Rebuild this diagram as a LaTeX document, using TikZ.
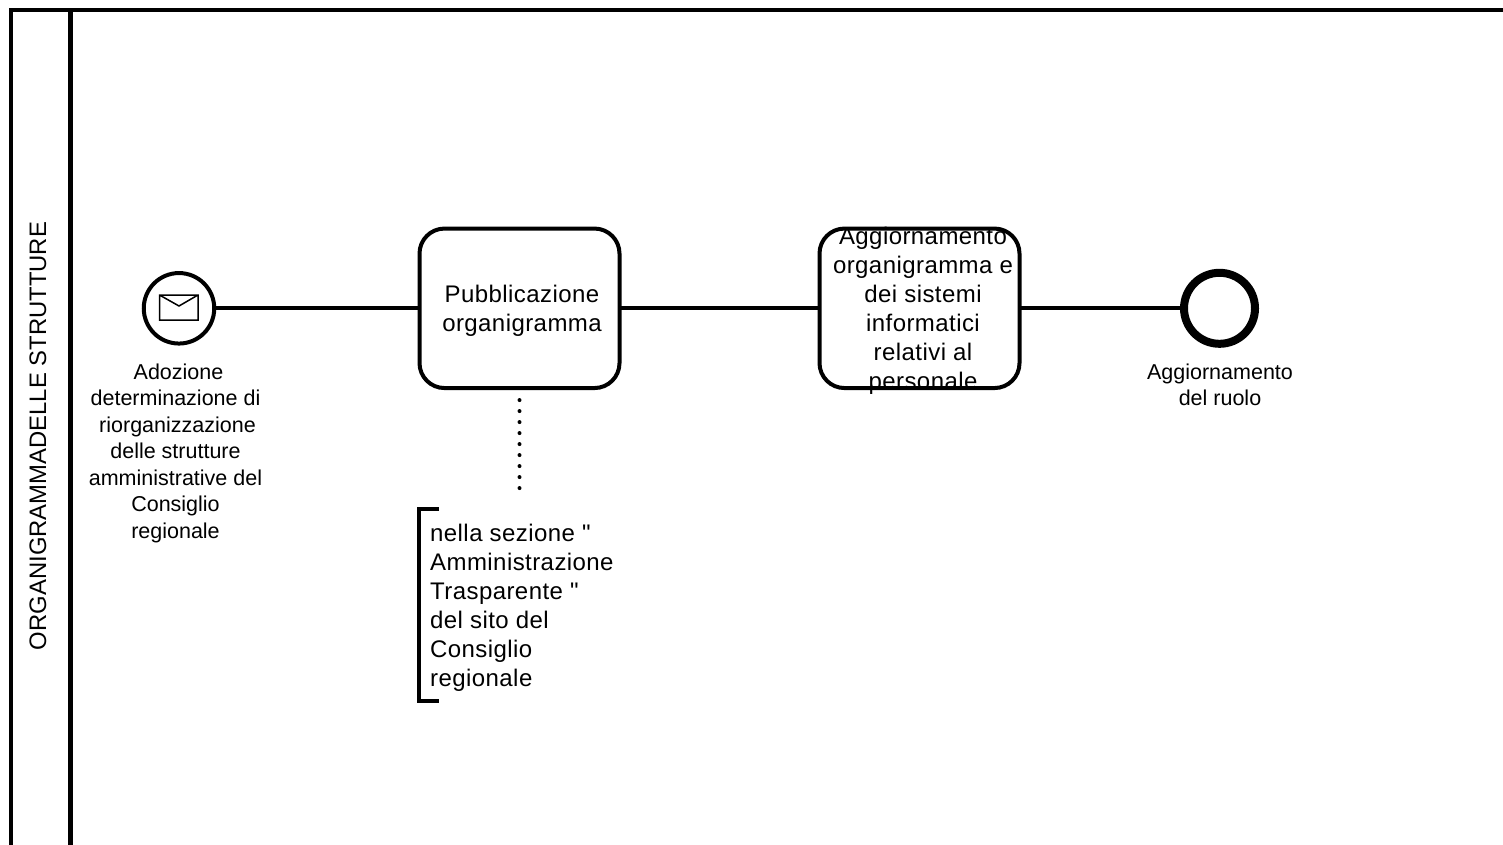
\documentclass[tikz,border=0pt]{standalone}
\usepackage{fontspec}
\setmainfont{Liberation Sans}
\newfontfamily\plainquote{Liberation Sans}
\newfontfamily\spacedfont[LetterSpace=1.8]{Liberation Sans}
\newcommand{\stq}{{\plainquote\fontsize{24}{29}\selectfont"}}
\tikzset{
  flow/.style={line width=4pt,draw=black},
  task/.style={draw=none,outer sep=0pt,minimum width=200pt,minimum height=159.5pt,inner sep=0pt},
  tasklabel/.style={align=center,inner sep=0pt,font=\spacedfont\fontsize{24}{29}\selectfont},
  evlabel/.style={align=center,inner sep=0pt,font=\fontsize{21.5}{26.5}\selectfont},
  border/.style={draw=black,line width=4pt,rounded corners=25pt},
  lane/.style={draw=black,line width=4pt},
}
\begin{document}
\begin{tikzpicture}[x=1pt,y=-1pt]
\useasboundingbox (0,0) rectangle (1503,844);
\begin{scope}
\clip (0,0) rectangle (1503,844);
\draw[lane] (10.5,900) -- (10.5,10) -- (1520,10);
\draw[lane,line width=5pt] (70.5,10) -- (70.5,900);
\end{scope}
\node[rotate=90,inner sep=0pt,font=\fontsize{23.85}{29}\selectfont] (lanelabel) at (38,436) {ORGANIGRAMMADELLE STRUTTURE};
% start event
\node[circle,draw=black,line width=4pt,minimum size=70.5pt,inner sep=0pt] (start) at (179,308.3) {};
\draw[line width=1.5pt] (159.5,295) rectangle (198,320) (159.5,295) -- (179,306) -- (198,295);
\node[evlabel,anchor=north] (startlabel) at (175.5,363.5) {\hspace*{6pt}Adozione\\determinazione di\\\hspace*{4pt}riorganizzazione\\delle strutture\\amministrative del\\Consiglio\\regionale};
% tasks
\node[task] (t1) at (519.5,308.3) {};
\node[task] (t2) at (919.5,308.3) {};
\node[tasklabel] (t1label) at (522,310.5) {Pubblicazione\\organigramma};
\node[tasklabel] (t2label) at (923,310.5) {Aggiornamento\\organigramma e\\dei sistemi\\informatici\\relativi al\\personale};
\draw[border] (t1.south west) rectangle (t1.north east);
\draw[border] (t2.south west) rectangle (t2.north east);
% end event
\node[circle,draw=black,line width=8pt,minimum size=71pt,inner sep=0pt] (end) at (1219.5,308.3) {};
\node[evlabel,anchor=north] (endlabel) at (1220,363.5) {Aggiornamento\\del ruolo};
% flows
\draw[flow] (start) -- (t1);
\draw[flow] (t1) -- (t2);
\draw[flow] (t2) -- (end);
% annotation
\coordinate (annot) at (519.5,490);
\draw[line width=4pt,line cap=round,dash pattern=on 0pt off 11pt] (t1.south) ++(0,12) -- (annot);
\draw[line width=4pt] (439,508.7) -- (418.7,508.7) -- (418.7,700.7) -- (439,700.7);
\node[anchor=north west,inner sep=0pt,align=left,font=\spacedfont\fontsize{24}{29}\selectfont] (annotext) at (430,524) {nella sezione \stq\\Amministrazione\\Trasparente \stq\\del sito del\\Consiglio\\regionale};
\end{tikzpicture}
\end{document}
